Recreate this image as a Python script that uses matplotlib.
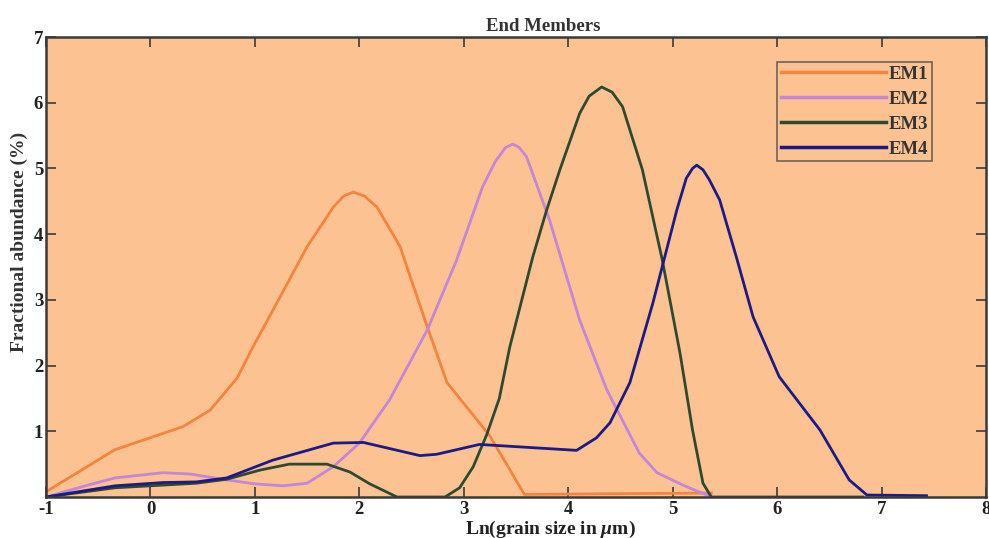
import matplotlib
matplotlib.use("Agg")
import matplotlib.pyplot as plt

###Values###
em1_x = [-1.0, -0.34, 0.31, 0.57, 0.83, 0.98, 1.24, 1.50, 1.75, 1.85, 1.94, 2.05, 2.17, 2.39, 2.65, 2.84, 3.25, 3.58, 5.37]
em1_y = [0.08, 0.72, 1.07, 1.32, 1.81, 2.28, 3.04, 3.81, 4.41, 4.58, 4.64, 4.58, 4.41, 3.81, 2.59, 1.74, 0.93, 0.04, 0.06]

em2_x = [-1.0, -0.6, -0.34, 0.12, 0.38, 0.73, 1.0, 1.27, 1.50, 1.75, 2.00, 2.29, 2.65, 2.93, 3.18, 3.30, 3.40, 3.47, 3.53, 3.60, 3.82, 4.11, 4.37, 4.68, 4.85, 5.10, 5.37]
em2_y = [0.0, 0.18, 0.29, 0.37, 0.35, 0.26, 0.20, 0.17, 0.21, 0.46, 0.82, 1.48, 2.54, 3.60, 4.72, 5.10, 5.32, 5.37, 5.32, 5.18, 4.22, 2.69, 1.63, 0.67, 0.37, 0.18, 0.0]

em3_x = [-1.0, -0.34, 0.44, 0.73, 1.05, 1.33, 1.69, 1.91, 2.10, 2.36, 2.82, 2.96, 3.09, 3.22, 3.34, 3.44, 3.66, 3.79, 3.92, 4.11, 4.20, 4.32, 4.42, 4.52, 4.71, 4.90, 5.07, 5.19, 5.29, 5.37, 6.82]
em3_y = [0.0, 0.14, 0.21, 0.27, 0.41, 0.50, 0.50, 0.38, 0.20, 0.0, 0.0, 0.14, 0.46, 0.95, 1.50, 2.28, 3.65, 4.35, 4.98, 5.84, 6.10, 6.24, 6.16, 5.94, 4.98, 3.61, 2.19, 1.02, 0.21, 0.0, 0.0]

em4_x = [-1.0, -0.34, 0.12, 0.44, 0.73, 1.17, 1.75, 2.04, 2.58, 2.74, 3.15, 4.08, 4.27, 4.40, 4.59, 4.81, 5.04, 5.13, 5.19, 5.23, 5.29, 5.35, 5.45, 5.61, 5.77, 6.02, 6.41, 6.69, 6.86, 7.43]
em4_y = [0.0, 0.17, 0.22, 0.23, 0.29, 0.56, 0.82, 0.83, 0.63, 0.65, 0.80, 0.71, 0.90, 1.13, 1.74, 2.95, 4.37, 4.85, 5.00, 5.05, 4.98, 4.83, 4.52, 3.65, 2.74, 1.83, 1.02, 0.26, 0.03, 0.02]

labels = ['EM1', 'EM2', 'EM3', 'EM4']
colors = ['#F4843E', '#C386D8', '#2D4A30', '#1C1A86']
x_ticks = [-1, 0, 1, 2, 3, 4, 5, 6, 7, 8]
y_ticks = [1, 2, 3, 4, 5, 6, 7]

plt.rcParams['font.family'] = ['Liberation Serif', 'DejaVu Serif']
plt.rcParams['font.weight'] = 'bold'
plt.rcParams['axes.unicode_minus'] = False
plt.rcParams['mathtext.fontset'] = 'custom'
plt.rcParams['mathtext.it'] = 'Liberation Serif:italic:bold'
plt.rcParams['mathtext.rm'] = 'Liberation Serif:bold'

fig = plt.figure(figsize=(9.89, 5.38), dpi=100)
ax = fig.add_axes([0.0465, 0.0762, 0.9505, 0.855])
ax.set_facecolor('#FDC292')

series = [(em1_x, em1_y), (em2_x, em2_y), (em3_x, em3_y), (em4_x, em4_y)]
for (xs, ys), lab, c in zip(series, labels, colors):
	ax.plot(xs, ys, color=c, lw=2.0, label=lab, solid_joinstyle='round')

ax.set_xlim(-1, 8)
ax.set_ylim(0, 7)
ax.set_xticks(x_ticks)
ax.set_yticks(y_ticks)
ax.tick_params(direction='in', length=7, width=1.2, top=True, right=True,
	labelsize=13.5, colors='#3a3a3a', labelcolor='#222222')
ax.tick_params(axis='x', pad=3)
ax.tick_params(axis='y', pad=2)
for s in ax.spines.values():
	s.set_linewidth(1.8)
	s.set_color('#3a3a3a')

ax.set_title('End Members', fontsize=13.5, fontweight='bold', x=0.529, y=1.013, pad=0, color='#333333')
ax.set_xlabel(r'Ln(grain size in $\mu$m)', fontsize=14, fontweight='bold', color='#222222')
ax.xaxis.set_label_coords(0.537, -0.047)
ax.xaxis.label.set_va('top')
ax.set_ylabel('Fractional abundance (%)', fontsize=14, fontweight='bold', color='#333333')
ax.yaxis.set_label_coords(-0.019, 0.554)

leg = ax.legend(loc='upper left', bbox_to_anchor=(0.778, 0.946), borderaxespad=0,
	fontsize=13.5, handlelength=5.6, handletextpad=0.12, borderpad=0.2,
	labelspacing=0.42, fancybox=False, frameon=True)
leg.get_frame().set_facecolor('none')
leg.get_frame().set_edgecolor('#4a4a4a')
leg.get_frame().set_linewidth(1.2)
for t in leg.get_texts():
	t.set_color('#333333')
for h in leg.get_lines():
	h.set_linewidth(2.5)

plt.savefig('out.png', dpi=100)
